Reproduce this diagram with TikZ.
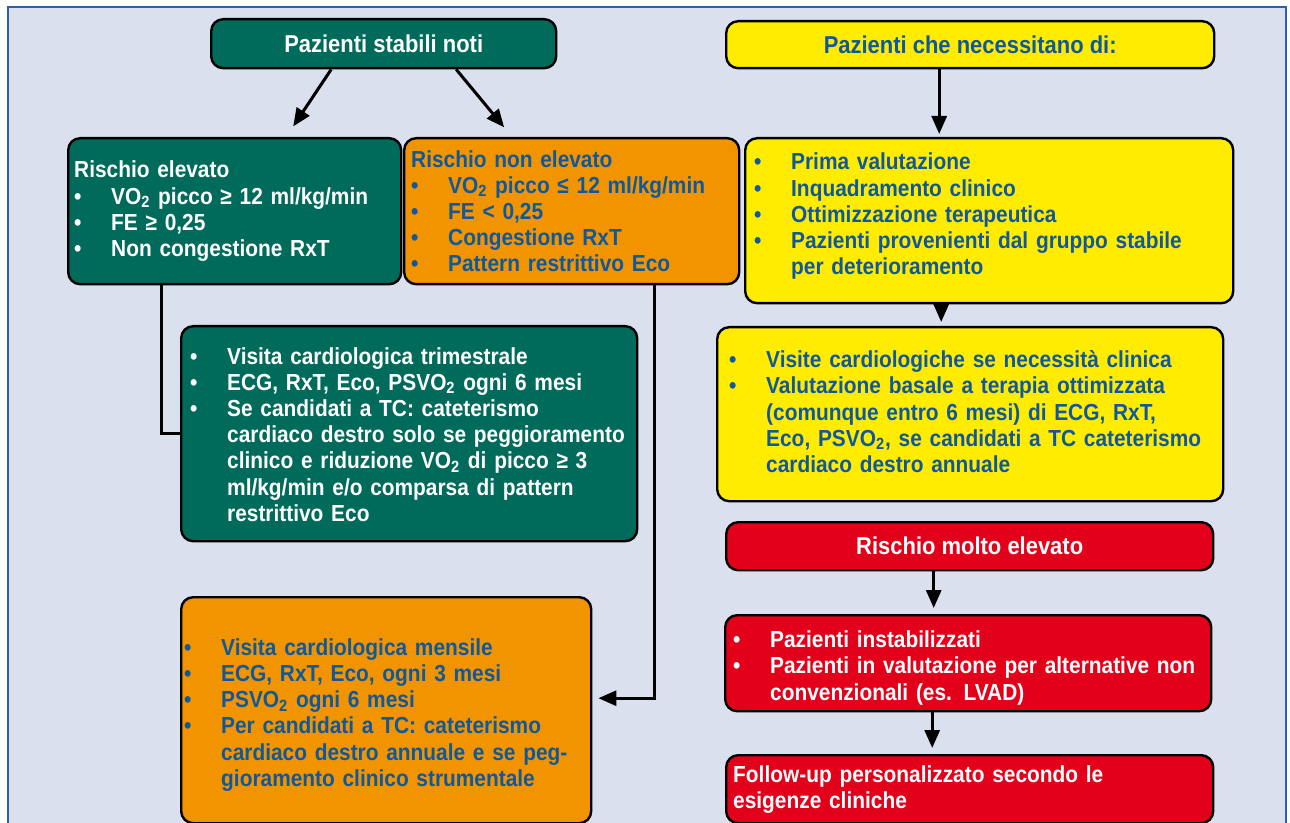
\documentclass[tikz,border=0pt]{standalone}
\usepackage{fontspec}
\setmainfont{Liberation Sans}[FakeStretch=0.9]
\usepackage{xcolor}
\usepackage{tikz}
\usetikzlibrary{positioning,arrows.meta,calc}
\definecolor{stablegreen}{HTML}{006B5B}
\definecolor{riskorange}{HTML}{F29400}
\definecolor{needyellow}{HTML}{FFEC00}
\definecolor{highred}{HTML}{E2001A}
\definecolor{textblue}{HTML}{10589C}
\definecolor{panelbg}{HTML}{DAE0EE}
\definecolor{framebl}{HTML}{2A62A6}
\newlength{\bulind}
\setlength{\bulind}{18.5pt}
\newcommand{\boxfont}{\fontsize{11.6}{13.1}\selectfont\bfseries}
\newcommand{\titlefont}{\fontsize{12.2}{14}\selectfont\bfseries}
\newcommand{\itm}[1]{\par\hangindent=\bulind\hangafter=1\noindent\makebox[\bulind][l]{\textbullet}#1}
\newcommand{\nl}{\hfil\break}
\newcommand{\pad}[1]{\leftskip=#1\relax}
\newcommand{\subtwo}{\textsubscript{2}}

\begin{document}
\begin{tikzpicture}[x=0.5pt, y=-0.5pt,
    box/.style={draw=black, line width=1.2pt, rounded corners=6pt, anchor=north west, inner xsep=1pt, inner ysep=2pt, font=\boxfont, align=left},
    titlebox/.style={box, align=center, font=\titlefont},
    arr/.style={line width=1.5pt, -{Triangle[length=9pt,width=7.5pt]}},
    link/.style={line width=1.5pt},
  ]
  \useasboundingbox (0,0) rectangle (1290,823);
  \fill[white] (0,0) rectangle (1290,823);
  \filldraw[fill=panelbg, draw=framebl, line width=1pt] (8,7) rectangle (1286,840);

  % left column
  \node[titlebox, fill=stablegreen, text=white, minimum width=172.5pt, minimum height=24.5pt] (stable) at (210,18) {Pazienti stabili noti};
  \node[box, fill=stablegreen, text=white, minimum width=166.5pt, minimum height=73pt, text width=164.5pt] (hi) at (67,137)
    {\pad{2pt}Rischio elevato\itm{VO\subtwo{} picco ≥ 12 ml/kg/min}\itm{FE ≥ 0,25}\itm{Non congestione RxT}\par};
  \node[box, fill=riskorange, text=textblue, minimum width=167.5pt, minimum height=73pt, text width=165.5pt] (lo) at (403,137)
    {\pad{2.5pt}Rischio non elevato\itm{VO\subtwo{} picco ≤ 12 ml/kg/min}\itm{FE < 0,25}\itm{Congestione RxT}\itm{Pattern restrittivo Eco}\par};
  \node[box, fill=stablegreen, text=white, minimum width=228pt, minimum height=107.5pt, text width=226pt] (fuhi) at (180,325)
    {\pad{3.5pt}\itm{Visita cardiologica trimestrale}\itm{ECG, RxT, Eco, PSVO\subtwo{} ogni 6 mesi}\itm{Se candidati a TC: cateterismo\nl cardiaco destro solo se peggioramento\nl clinico e riduzione VO\subtwo{} di picco ≥ 3\nl ml/kg/min e/o comparsa di pattern\nl restrittivo Eco}\par\vspace*{4pt}};
  \node[box, fill=riskorange, text=textblue, minimum width=205pt, minimum height=113pt, text width=203pt] (fulo) at (180,596)
    {\pad{0.5pt}\itm{Visita cardiologica mensile}\itm{ECG, RxT, Eco, ogni 3 mesi}\itm{PSVO\subtwo{} ogni 6 mesi}\itm{Per candidati a TC: cateterismo\nl cardiaco destro annuale e se peg-\nl gioramento clinico strumentale}\par};

  % right column
  \node[titlebox, fill=needyellow, text=textblue, minimum width=244pt, minimum height=23.5pt] (need) at (725,20) {Pazienti che necessitano di:};
  \node[box, fill=needyellow, text=textblue, minimum width=244pt, minimum height=82.5pt, text width=242pt] (first) at (744,137)
    {\pad{3.5pt}\itm{Prima valutazione}\itm{Inquadramento clinico}\itm{Ottimizzazione terapeutica}\itm{Pazienti provenienti dal gruppo stabile\nl per deterioramento}\par\vspace*{9pt}};
  \node[box, fill=needyellow, text=textblue, minimum width=253pt, minimum height=87pt, text width=251pt] (basal) at (716,326)
    {\pad{5pt}\itm{Visite cardiologiche se necessità clinica}\itm{Valutazione basale a terapia ottimizzata\nl (comunque entro 6 mesi) di ECG, RxT,\nl Eco, PSVO\subtwo, se candidati a TC cateterismo\nl cardiaco destro annuale}\par\vspace*{7pt}};
  \node[titlebox, fill=highred, text=white, minimum width=243.5pt, minimum height=24pt] (vhigh) at (725,521) {Rischio molto elevato};
  \node[box, fill=highred, text=white, minimum width=243pt, minimum height=48pt, text width=241pt] (unst) at (724,614)
    {\pad{3pt}\itm{Pazienti instabilizzati}\itm{Pazienti in valutazione per alternative non\nl convenzionali (es. LVAD)}\par};
  \node[box, fill=highred, text=white, minimum width=243.5pt, minimum height=34pt, text width=241.5pt] (pers) at (725,754)
    {\pad{2.5pt}Follow-up personalizzato secondo le\nl esigenze cliniche\par};

  % connectors
  \draw[arr] ([xshift=-26.25pt]stable.south) -- ++(-38,57);
  \draw[arr] ([xshift=36.25pt]stable.south) -- ++(48,58);
  \draw[link] ([xshift=-36.75pt]hi.south) |- (fuhi.west);
  \draw[arr, shorten >=3pt] ([xshift=41.25pt]lo.south) |- ([yshift=6pt]fulo.east);
  \draw[arr, shorten >=1.5pt] ([xshift=-15.5pt]need.south) -- ([xshift=-15.5pt]need.south |- first.north);
  \draw[arr, shorten >=2pt] ([xshift=-24pt]first.south) -- ([xshift=-24pt]first.south |- basal.north);
  \draw[arr, shorten >=3pt] ([xshift=-18pt]vhigh.south) -- ([xshift=-18pt]vhigh.south |- unst.north);
  \draw[arr, shorten >=3pt] ([xshift=-18pt]unst.south) -- ([xshift=-18pt]unst.south |- pers.north);
\end{tikzpicture}
\end{document}
